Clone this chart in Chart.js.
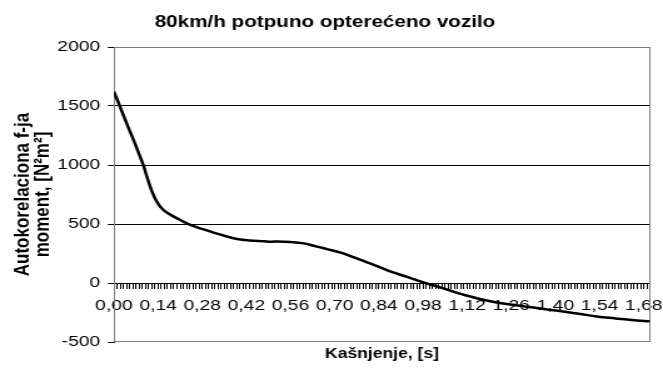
<!DOCTYPE html>
<html>
<head>
<meta charset="utf-8">
<script src="https://cdn.jsdelivr.net/npm/chart.js@4"></script>
<style>
  html, body { margin: 0; padding: 0; background: #fff; }
</style>
</head>
<body>
<!-- drawn narrow and widened in css, like the stretched sheet chart -->
<canvas id="acf" width="530" height="368" style="display:block;width:663px;height:368px"></canvas>
<script>
// lag [s] and autocorrelation of the moment [N^2 m^2]
var lagTimes = [0.000, 0.014, 0.030, 0.045, 0.067, 0.080, 0.093, 0.104, 0.117, 0.130, 0.143, 0.157, 0.178, 0.200, 0.242, 0.280, 0.316, 0.350, 0.390, 0.430, 0.475, 0.500, 0.520, 0.560, 0.602, 0.630, 0.666, 0.687, 0.719, 0.750, 0.783, 0.830, 0.878, 0.930, 0.974, 1.027, 1.070, 1.112, 1.160, 1.218, 1.270, 1.324, 1.380, 1.430, 1.480, 1.536, 1.590, 1.642, 1.700];
var autocorr = [1621, 1530, 1420, 1320, 1180, 1090, 1000, 905, 800, 718, 660, 619, 580, 548, 492, 458, 427, 400, 373, 360, 354, 350, 352, 348, 336, 318, 294, 280, 257, 228, 195, 148, 96, 52, 11, -31, -68, -102, -135, -167, -187, -206, -226, -243, -262, -286, -300, -314, -325];

var tickEvery = 14; // one label every 0,14 s
var font = "'Liberation Sans', Arial, sans-serif";

// grey frame round the plot area
var plotFrame = {
  id: 'plotFrame',
  beforeDatasetsDraw: function (chart) {
    var a = chart.chartArea, c = chart.ctx;
    c.save();
    c.strokeStyle = '#808080';
    c.lineWidth = 1;
    c.strokeRect(Math.round(a.left) + 0.5, Math.round(a.top) + 0.5,
      Math.round(a.right - a.left) - 1, Math.round(a.bottom - a.top) - 1);
    c.restore();
  }
};

var ctx = document.getElementById('acf');
var chart = new Chart(ctx, {
  type: 'line',
  data: {
    datasets: [{
      data: lagTimes.map(function (t, i) { return { x: t, y: autocorr[i] }; }),
      borderColor: '#000',
      borderWidth: 2.5,
      pointRadius: 0,
      cubicInterpolationMode: 'monotone'
    }]
  },
  options: {
    responsive: false,
    animation: false,
    layout: { padding: { left: 0, right: 10.4, top: 0, bottom: 0 } },
    plugins: {
      legend: { display: false },
      tooltip: { enabled: false },
      title: {
        display: true,
        text: '80km/h potpuno opterećeno vozilo',
        color: '#000',
        font: { family: font, size: 16.5, weight: 'bold' },
        padding: { top: 13, bottom: 14.2 }
      },
      subtitle: {
        display: true,
        position: 'bottom',
        fullSize: false,
        text: 'Kašnjenje, [s]',
        color: '#000',
        font: { family: font, size: 14, weight: 'bold' },
        padding: { top: 3.6, bottom: 5.6 }
      }
    },
    scales: {
      x: {
        type: 'linear',
        position: { y: 0 },
        min: 0,
        max: 1.70,
        border: { display: true, color: '#000', width: 1 },
        grid: { drawOnChartArea: false, drawTicks: true, tickLength: 5, tickColor: '#000' },
        ticks: {
          stepSize: 0.01,
          autoSkip: false,
          maxRotation: 0,
          minRotation: 0,
          padding: 9,
          color: '#000',
          font: { family: font, size: 15.4 },
          callback: function (v, i) {
            return i % tickEvery === 0 ? v.toFixed(2).replace('.', ',') : '';
          }
        }
      },
      y: {
        min: -500,
        max: 2000,
        border: { display: true, color: '#000', width: 1 },
        grid: {
          color: function (c) {
            var v = c.tick ? c.tick.value : 0;
            return (v === -500 || v === 2000) ? 'rgba(0,0,0,0)' : '#000';
          },
          tickColor: '#000',
          tickLength: 5
        },
        ticks: {
          stepSize: 500,
          padding: 6,
          color: '#000',
          font: { family: font, size: 15.4 },
          callback: function (v) { return String(v); }
        },
        title: {
          display: true,
          text: ['Autokorelaciona f-ja', 'moment, [N²m²]'],
          color: '#000',
          font: { family: font, size: 17, weight: 'bold', lineHeight: '16px' },
          padding: { top: 10.5, bottom: 0 }
        },
        afterFit: function (scale) { scale.width = 91.1; }
      }
    }
  },
  plugins: [plotFrame]
});
</script>
</body>
</html>
